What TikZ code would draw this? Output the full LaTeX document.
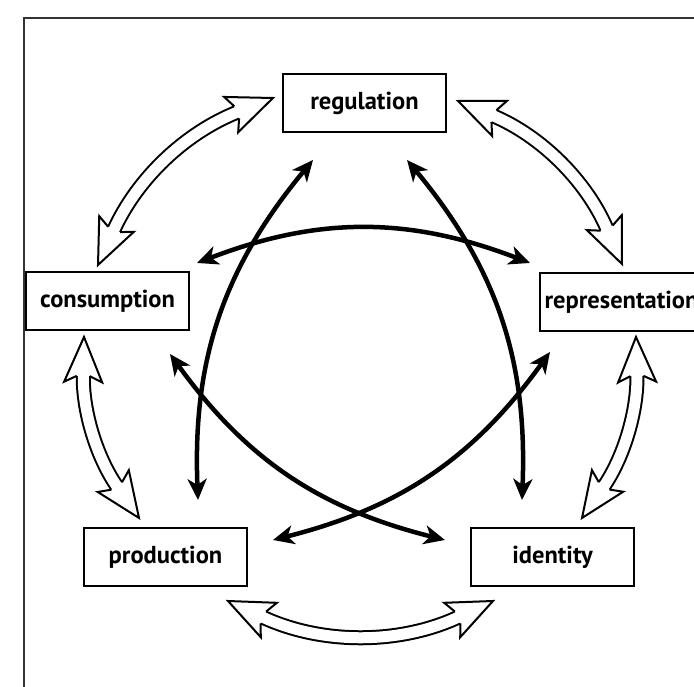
\documentclass[tikz,border=0pt]{standalone}
\usepackage{fontspec}
\setmainfont{PT Sans}
\usetikzlibrary{arrows.meta,decorations.markings}

\tikzset{
  box/.style={draw, line width=2pt, minimum width=163pt, minimum height=58pt, inner sep=0pt,
    font=\bfseries\fontsize{24.5}{28}\selectfont},
  link/.style={line width=4.5pt,
    {Stealth[length=21pt,width=19pt,inset=6pt]}-{Stealth[length=21pt,width=19pt,inset=6pt]}},
  hollowhead/.style={line width=2pt, fill=white, line join=miter},
  hollowshaft/.style={line width=2pt, double=white, double distance=11pt,
    shorten <=38pt, shorten >=38pt},
  hollowtips/.style={decorate, decoration={markings,
    mark=at position 0.0001 with {\draw[hollowhead, rotate=180] (-39pt,6.5pt) -- (-45pt,19pt) -- (0pt,0pt) -- (-45pt,-19pt) -- (-39pt,-6.5pt);},
    mark=at position 0.9999 with {\draw[hollowhead] (-39pt,6.5pt) -- (-45pt,19pt) -- (0pt,0pt) -- (-45pt,-19pt) -- (-39pt,-6.5pt);}}}
}
\newcommand{\hollowarrow}[3]{%
  \draw[hollowshaft] (#1) to[#3] (#2);
  \path[hollowtips] (#1) to[#3] (#2);}

\begin{document}
\begin{tikzpicture}[x=1pt,y=1pt]
  \useasboundingbox (0,0) rectangle (694,687);
  \draw[line width=1.5pt, black!80] (24,-20) -- (24,669) -- (720,669);

  \node[box] (reg) at (364.5,584) {regulation};
  \node[box] (con) at (107.5,385.5) {consumption};
  \node[box, anchor=west] (rep) at (539,385) {representation};
  \node[box] (pro) at (165.5,129.5) {production};
  \node[box] (ide) at (552.5,129.5) {identity};

  % inner links
  \coordinate (rp1) at (313,527);  \coordinate (rp2) at (198,187);
  \coordinate (ri1) at (407,527);  \coordinate (ri2) at (522,187);
  \coordinate (cr1) at (197,424);  \coordinate (cr2) at (530,424);
  \coordinate (ci1) at (170,333);  \coordinate (ci2) at (445,147);
  \coordinate (rq1) at (550,335);  \coordinate (rq2) at (273,147);
  \draw[link] (rp1) to[bend right=21] (rp2);
  \draw[link] (ri1) to[bend left=21] (ri2);
  \draw[link] (cr1) to[bend left=21] (cr2);
  \draw[link] (ci1) to[bend right=20] (ci2);
  \draw[link] (rq1) to[bend left=20] (rq2);

  % outer ring
  \coordinate (a1) at (273,589);  \coordinate (a2) at (98,422);
  \coordinate (b1) at (458,586);  \coordinate (b2) at (622,423);
  \coordinate (c1) at (84,350);   \coordinate (c2) at (139,169);
  \coordinate (d1) at (636,350);  \coordinate (d2) at (582,169);
  \coordinate (e1) at (228,86);   \coordinate (e2) at (493,86);
  \hollowarrow{a1}{a2}{bend right=22}
  \hollowarrow{b1}{b2}{bend left=22}
  \hollowarrow{c1}{c2}{bend right=18}
  \hollowarrow{d1}{d2}{bend left=18}
  \hollowarrow{e1}{e2}{bend right=25}
\end{tikzpicture}
\end{document}
